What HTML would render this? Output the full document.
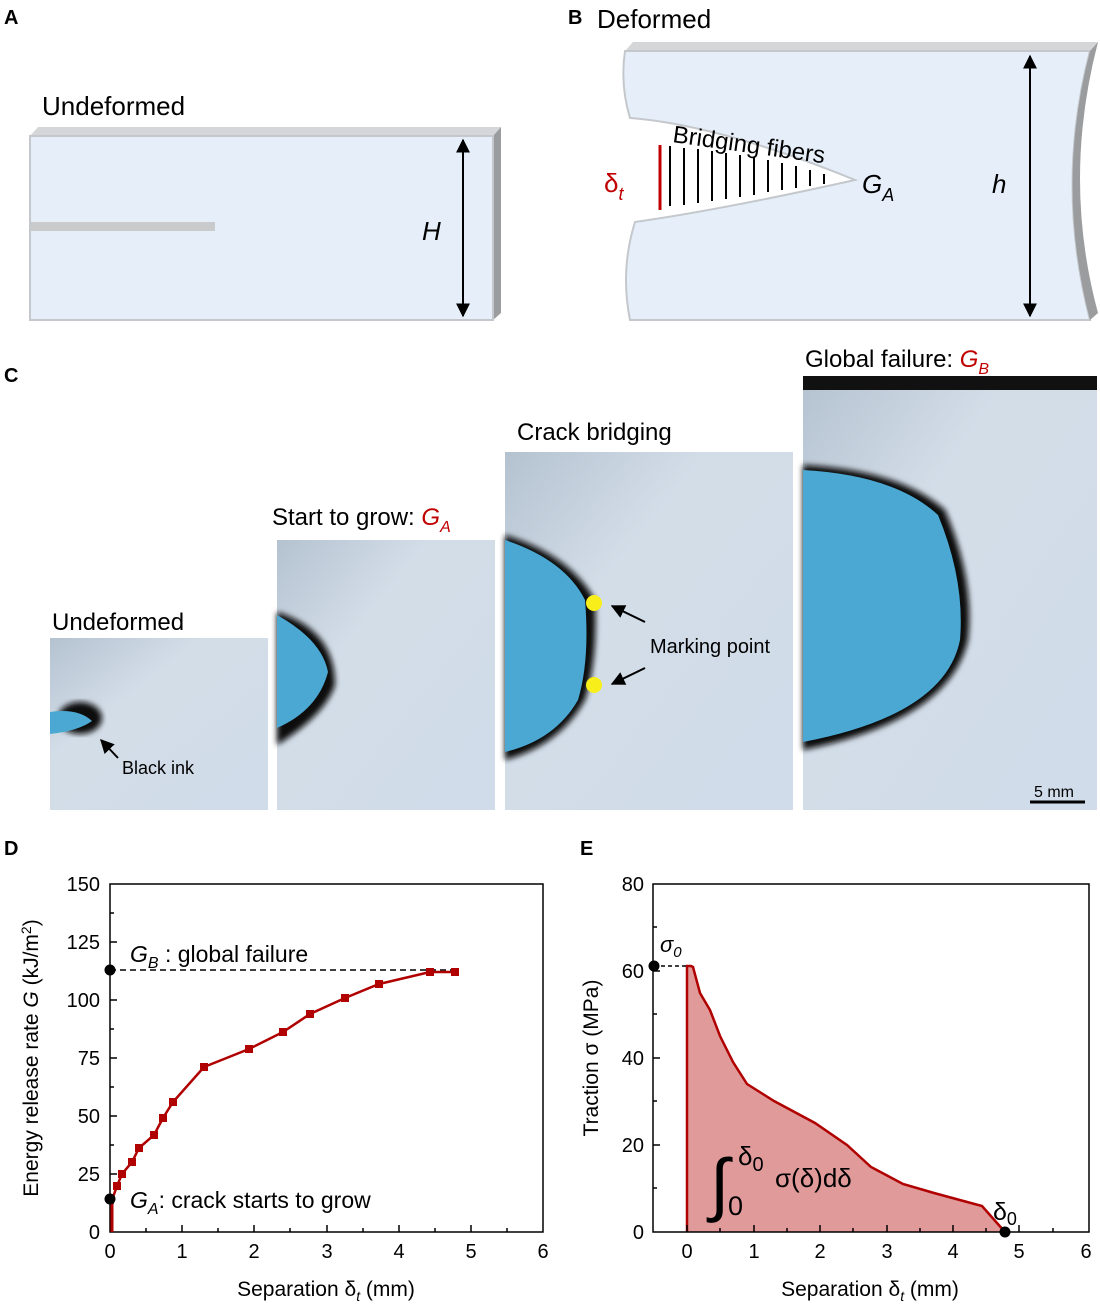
<!DOCTYPE html>
<html><head><meta charset="utf-8"><style>
html,body{margin:0;padding:0;background:#fff}
svg{display:block}
text{font-family:"Liberation Sans",Arial,sans-serif;fill:#000}
</style></head><body>
<svg width="1100" height="1312" viewBox="0 0 1100 1312" xmlns="http://www.w3.org/2000/svg">
<defs>
<marker id="ah" viewBox="0 0 10 10" refX="9" refY="5" markerWidth="7" markerHeight="7" orient="auto-start-reverse"><path d="M0,0 L10,5 L0,10 z" fill="#000"/></marker>
<linearGradient id="ph" x1="0" y1="0" x2="1" y2="1"><stop offset="0" stop-color="#b4c2d0"/><stop offset="0.35" stop-color="#d3dde8"/><stop offset="1" stop-color="#d0dcea"/></linearGradient>
<filter id="bl"><feGaussianBlur stdDeviation="3"/></filter>
</defs>
<!-- Panel A -->
<text x="4" y="24" font-size="20" font-weight="bold">A</text>
<text x="42" y="115" font-size="26">Undeformed</text>
<polygon points="30,136 38,127 501,127 493,136" fill="#d4d6d8"/>
<polygon points="493,136 501,127 501,313 493,320" fill="#9a9c9e"/>
<rect x="30" y="136" width="463" height="184" fill="#e6eff9" stroke="#c4c8cc" stroke-width="2"/>
<rect x="30" y="222" width="185" height="9" fill="#c8cacc"/>
<line x1="463" y1="140" x2="463" y2="316" stroke="#000" stroke-width="2" marker-start="url(#ah)" marker-end="url(#ah)"/>
<text x="422" y="240" font-size="26" font-style="italic">H</text>
<!-- Panel B -->
<text x="568" y="24" font-size="20" font-weight="bold">B</text>
<text x="597" y="28" font-size="26">Deformed</text>
<polygon points="625,51 633,42 1098,42 1090,51" fill="#d4d6d8"/>
<path d="M625,51 L1090,51 Q1055,185 1090,320 L630,320 Q620,270 635,222 Q720,210 855,180 Q720,125 630,118 Q620,85 625,51 Z" fill="#e6eff9" stroke="#c4c8cc" stroke-width="2"/>
<path d="M1090,51 L1098,42 Q1062,180 1098,313 L1090,320 Q1055,185 1090,51 Z" fill="#9a9c9e"/>
<path d="M660,142 Q750,150 845,180 Q750,200 660,215 Z" fill="#fff"/>
<g stroke="#000" stroke-width="2">
<line x1="670" y1="146" x2="670" y2="206"/><line x1="684" y1="148" x2="684" y2="205"/><line x1="698" y1="149" x2="698" y2="203"/><line x1="712" y1="151" x2="712" y2="201"/><line x1="726" y1="153" x2="726" y2="199"/><line x1="740" y1="155" x2="740" y2="197"/><line x1="754" y1="157" x2="754" y2="195"/><line x1="768" y1="160" x2="768" y2="192"/><line x1="782" y1="163" x2="782" y2="190"/><line x1="796" y1="166" x2="796" y2="188"/><line x1="810" y1="170" x2="810" y2="186"/><line x1="824" y1="174" x2="824" y2="184"/>
</g>
<line x1="660" y1="145" x2="660" y2="210" stroke="#c00000" stroke-width="3"/>
<text x="604" y="192" font-size="26" style="fill:#c00000">δ<tspan font-size="18" font-style="italic" dy="8">t</tspan></text>
<text x="672" y="142" font-size="24" transform="rotate(8 672 142)">Bridging fibers</text>
<text x="862" y="193" font-size="26" font-style="italic">G<tspan font-size="18" dy="8">A</tspan></text>
<line x1="1030" y1="56" x2="1030" y2="316" stroke="#000" stroke-width="2" marker-start="url(#ah)" marker-end="url(#ah)"/>
<text x="992" y="193" font-size="26" font-style="italic">h</text>
<!-- Panel C -->
<text x="4" y="382" font-size="20" font-weight="bold">C</text>
<text x="52" y="630" font-size="24">Undeformed</text>
<rect x="50" y="638" width="218" height="172" fill="url(#ph)"/>
<ellipse cx="80" cy="718" rx="22" ry="16" fill="#111" filter="url(#bl)"/>
<path d="M50,712 Q78,708 92,721 Q78,731 50,734 Z" fill="#4aa8d3"/>
<line x1="118" y1="758" x2="101" y2="740" stroke="#000" stroke-width="2" marker-end="url(#ah)"/>
<text x="122" y="774" font-size="18">Black ink</text>
<text x="272" y="525" font-size="24">Start to grow: <tspan style="fill:#c00000" font-style="italic">G<tspan font-size="16" dy="7">A</tspan></tspan></text>
<rect x="277" y="540" width="218" height="270" fill="url(#ph)"/>
<path d="M277,612 Q335,630 335,685 Q325,715 277,745 Z" fill="#111" filter="url(#bl)"/>
<path d="M277,615 Q322,640 328,672 Q318,710 277,728 Z" fill="#4aa8d3"/>
<text x="517" y="440" font-size="24">Crack bridging</text>
<rect x="505" y="452" width="288" height="358" fill="url(#ph)"/>
<path d="M505,535 Q570,555 595,600 Q598,660 585,700 Q560,745 505,760 Z" fill="#111" filter="url(#bl)"/>
<path d="M505,540 Q565,560 585,600 Q590,660 578,700 Q555,740 505,752 Z" fill="#4aa8d3"/>
<circle cx="594" cy="603" r="8" fill="#f7ee1a"/><circle cx="594" cy="685" r="8" fill="#f7ee1a"/>
<line x1="645" y1="622" x2="612" y2="606" stroke="#000" stroke-width="2" marker-end="url(#ah)"/>
<line x1="645" y1="668" x2="612" y2="684" stroke="#000" stroke-width="2" marker-end="url(#ah)"/>
<text x="650" y="653" font-size="20">Marking point</text>
<text x="805" y="367" font-size="24">Global failure: <tspan style="fill:#c00000" font-style="italic">G<tspan font-size="16" dy="7">B</tspan></tspan></text>
<rect x="803" y="376" width="294" height="434" fill="url(#ph)"/>
<rect x="803" y="376" width="294" height="14" fill="#111"/>
<path d="M803,465 Q900,470 945,510 Q975,580 968,640 Q950,720 803,750 Z" fill="#111" filter="url(#bl)"/>
<path d="M803,470 Q895,475 938,515 Q965,580 960,640 Q945,715 803,742 Z" fill="#4aa8d3"/>
<line x1="1030" y1="802" x2="1085" y2="802" stroke="#000" stroke-width="3"/>
<text x="1034" y="797" font-size="16">5 mm</text>
<!-- Panel D -->
<text x="4" y="855" font-size="20" font-weight="bold">D</text>
<rect x="110" y="884" width="433" height="348" fill="none" stroke="#000" stroke-width="1.5"/>
<g font-size="20" text-anchor="end">
<text x="100" y="1239">0</text><text x="100" y="1181">25</text><text x="100" y="1123">50</text><text x="100" y="1065">75</text><text x="100" y="1007">100</text><text x="100" y="949">125</text><text x="100" y="891">150</text>
</g>
<g stroke="#000" stroke-width="1.5">
<line x1="110" y1="1174" x2="117" y2="1174"/><line x1="110" y1="1116" x2="117" y2="1116"/><line x1="110" y1="1058" x2="117" y2="1058"/><line x1="110" y1="1000" x2="117" y2="1000"/><line x1="110" y1="942" x2="117" y2="942"/>
<line x1="110" y1="1203" x2="114" y2="1203"/><line x1="110" y1="1145" x2="114" y2="1145"/><line x1="110" y1="1087" x2="114" y2="1087"/><line x1="110" y1="1029" x2="114" y2="1029"/><line x1="110" y1="971" x2="114" y2="971"/><line x1="110" y1="913" x2="114" y2="913"/>
<line x1="182" y1="1232" x2="182" y2="1225"/><line x1="254" y1="1232" x2="254" y2="1225"/><line x1="327" y1="1232" x2="327" y2="1225"/><line x1="399" y1="1232" x2="399" y2="1225"/><line x1="471" y1="1232" x2="471" y2="1225"/>
<line x1="146" y1="1232" x2="146" y2="1228"/><line x1="218" y1="1232" x2="218" y2="1228"/><line x1="290" y1="1232" x2="290" y2="1228"/><line x1="363" y1="1232" x2="363" y2="1228"/><line x1="435" y1="1232" x2="435" y2="1228"/><line x1="507" y1="1232" x2="507" y2="1228"/>
</g>
<g font-size="20" text-anchor="middle">
<text x="110" y="1258">0</text><text x="182" y="1258">1</text><text x="254" y="1258">2</text><text x="327" y="1258">3</text><text x="399" y="1258">4</text><text x="471" y="1258">5</text><text x="543" y="1258">6</text>
<text x="326" y="1296" font-size="21">Separation δ<tspan font-style="italic" font-size="14" dy="5">t</tspan><tspan dy="-5"> (mm)</tspan></text>
</g>
<text transform="translate(38 1058) rotate(-90)" font-size="21" text-anchor="middle">Energy release rate <tspan font-style="italic">G</tspan> (kJ/m<tspan font-size="14" dy="-7">2</tspan><tspan dy="7">)</tspan></text>
<line x1="110" y1="970" x2="457" y2="970" stroke="#000" stroke-width="1.5" stroke-dasharray="6,4"/>
<line x1="112" y1="1232" x2="112" y2="1200" stroke="#b00000" stroke-width="3"/>
<polyline fill="none" stroke="#b00000" stroke-width="2.5" points="112,1200 117,1186 122,1174 132,1162 139,1148 154,1135 163,1118 173,1102 204,1067 249,1049 283,1032 310,1014 345,998 379,984 430,972 455,972"/>
<g fill="#b00000">
<rect x="113" y="1182" width="8" height="8"/><rect x="118" y="1170" width="8" height="8"/><rect x="128" y="1158" width="8" height="8"/><rect x="135" y="1144" width="8" height="8"/><rect x="150" y="1131" width="8" height="8"/><rect x="159" y="1114" width="8" height="8"/><rect x="169" y="1098" width="8" height="8"/><rect x="200" y="1063" width="8" height="8"/><rect x="245" y="1045" width="8" height="8"/><rect x="279" y="1028" width="8" height="8"/><rect x="306" y="1010" width="8" height="8"/><rect x="341" y="994" width="8" height="8"/><rect x="375" y="980" width="8" height="8"/><rect x="426" y="968" width="8" height="8"/><rect x="451" y="968" width="8" height="8"/>
</g>
<circle cx="110" cy="970" r="5.5" fill="#000"/><circle cx="110" cy="1199" r="5.5" fill="#000"/>
<text x="130" y="962" font-size="23"><tspan font-style="italic">G<tspan font-size="16" dy="6">B</tspan></tspan><tspan dy="-6"> : global failure</tspan></text>
<text x="130" y="1208" font-size="23"><tspan font-style="italic">G<tspan font-size="16" dy="6">A</tspan></tspan><tspan dy="-6">: crack starts to grow</tspan></text>
<!-- Panel E -->
<text x="580" y="855" font-size="20" font-weight="bold">E</text>
<path d="M687,1232 L687,966 L691,966 L693,967 L700,993 L710,1010 L720,1036 L733,1062 L747,1084 L774,1101 L815,1123 L847,1145 L871,1167 L903,1184 L934,1193 L982,1206 L1005,1232 Z" fill="#e09a9a" stroke="none"/>
<polyline fill="none" stroke="#b00000" stroke-width="2.5" points="687,1232 687,966 691,966 693,967 700,993 710,1010 720,1036 733,1062 747,1084 774,1101 815,1123 847,1145 871,1167 903,1184 934,1193 982,1206 1005,1232"/>
<rect x="653" y="884" width="436" height="348" fill="none" stroke="#000" stroke-width="1.5"/>
<g font-size="20" text-anchor="end">
<text x="644" y="1239">0</text><text x="644" y="1152">20</text><text x="644" y="1065">40</text><text x="644" y="978">60</text><text x="644" y="891">80</text>
</g>
<g stroke="#000" stroke-width="1.5">
<line x1="653" y1="1145" x2="660" y2="1145"/><line x1="653" y1="1058" x2="660" y2="1058"/><line x1="653" y1="971" x2="660" y2="971"/>
<line x1="653" y1="1188" x2="657" y2="1188"/><line x1="653" y1="1101" x2="657" y2="1101"/><line x1="653" y1="1014" x2="657" y2="1014"/><line x1="653" y1="927" x2="657" y2="927"/>
<line x1="687" y1="1232" x2="687" y2="1225"/><line x1="754" y1="1232" x2="754" y2="1225"/><line x1="820" y1="1232" x2="820" y2="1225"/><line x1="887" y1="1232" x2="887" y2="1225"/><line x1="953" y1="1232" x2="953" y2="1225"/><line x1="1019" y1="1232" x2="1019" y2="1225"/>
<line x1="720" y1="1232" x2="720" y2="1228"/><line x1="787" y1="1232" x2="787" y2="1228"/><line x1="853" y1="1232" x2="853" y2="1228"/><line x1="920" y1="1232" x2="920" y2="1228"/><line x1="986" y1="1232" x2="986" y2="1228"/><line x1="1053" y1="1232" x2="1053" y2="1228"/>
</g>
<g font-size="20" text-anchor="middle">
<text x="687" y="1258">0</text><text x="754" y="1258">1</text><text x="820" y="1258">2</text><text x="887" y="1258">3</text><text x="953" y="1258">4</text><text x="1019" y="1258">5</text><text x="1086" y="1258">6</text>
<text x="870" y="1296" font-size="21">Separation δ<tspan font-style="italic" font-size="14" dy="5">t</tspan><tspan dy="-5"> (mm)</tspan></text>
</g>
<text transform="translate(598 1058) rotate(-90)" font-size="21" text-anchor="middle">Traction σ (MPa)</text>
<line x1="654" y1="966" x2="687" y2="966" stroke="#000" stroke-width="1.5" stroke-dasharray="4,3"/>
<circle cx="654" cy="966" r="5.5" fill="#000"/><circle cx="1005" cy="1232" r="5.5" fill="#000"/>
<text x="660" y="952" font-size="22" font-style="italic">σ<tspan font-size="15" dy="5">0</tspan></text>
<text x="993" y="1220" font-size="25">δ<tspan font-size="18" dy="5">0</tspan></text>
<text x="710" y="1208" font-size="70" font-weight="normal">∫</text>
<text x="738" y="1165" font-size="26">δ<tspan font-size="20" dy="6">0</tspan></text>
<text x="728" y="1215" font-size="27">0</text>
<text x="775" y="1187" font-size="26">σ(δ)dδ</text>
</svg>
</body></html>
